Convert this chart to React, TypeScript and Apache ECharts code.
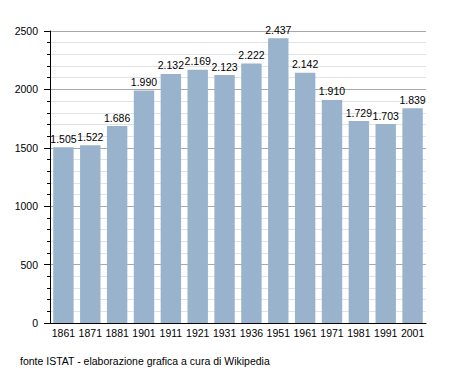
import React, { useEffect, useRef } from "react";
import * as echarts from "echarts";

const years = ["1861", "1871", "1881", "1901", "1911", "1921", "1931", "1936", "1951", "1961", "1971", "1981", "1991", "2001"];
const population = [1505, 1522, 1686, 1990, 2132, 2169, 2123, 2222, 2437, 2142, 1910, 1729, 1703, 1839];
const footer = "fonte ISTAT - elaborazione grafica a cura di Wikipedia";

const fmt = (v: number) => {
  const s = String(v);
  return s.length > 3 ? s.slice(0, s.length - 3) + "." + s.slice(s.length - 3) : s;
};

export default function App() {
  const ref = useRef<HTMLDivElement>(null);
  useEffect(() => {
    if (!ref.current) return;
    const chart = echarts.init(ref.current, null, { renderer: "svg" });
    const font = "'Liberation Sans', Arial, sans-serif";
    const fs = 10.5;
    chart.setOption({
      animation: false,
      backgroundColor: "#ffffff",
      textStyle: { fontFamily: font },
      grid: { left: 50, right: 29, top: 31, bottom: 50, containLabel: false },
      xAxis: {
        type: "category",
        data: years,
        axisLine: { show: true, lineStyle: { color: "#000", width: 1 } },
        axisTick: { show: false },
        axisLabel: { color: "#000", fontSize: fs, fontFamily: font, margin: 4, interval: 0 },
      },
      yAxis: {
        type: "value",
        min: 0,
        max: 2500,
        interval: 500,
        axisLine: { show: true, lineStyle: { color: "#000", width: 1 } },
        axisTick: { show: true, length: 6, lineStyle: { color: "#000" } },
        minorTick: { show: true, splitNumber: 5, length: 3, lineStyle: { color: "#000" } },
        splitLine: { show: true, lineStyle: { color: "#a8a8a8", width: 1 } },
        minorSplitLine: { show: true, lineStyle: { color: "#e2e2e2", width: 1 } },
        axisLabel: { color: "#000", fontSize: fs, fontFamily: font, margin: 12, formatter: (v: number) => String(v) },
      },
      series: [
        {
          type: "bar",
          data: population,
          barCategoryGap: "24%",
          itemStyle: { color: "#9ab3cc" },
          label: {
            show: true,
            position: "top",
            distance: 3,
            color: "#000",
            fontSize: fs,
            fontFamily: font,
            formatter: (p: any) => fmt(p.value),
          },
        },
      ],
      graphic: [
        {
          type: "text",
          left: 20,
          top: 355,
          style: { text: footer, fill: "#000", fontSize: fs, fontFamily: font },
        },
      ],
    });
    return () => chart.dispose();
  }, []);
  return <div ref={ref} style={{ width: 455, height: 373, position: "absolute", left: 0, top: 0 }} />;
}
